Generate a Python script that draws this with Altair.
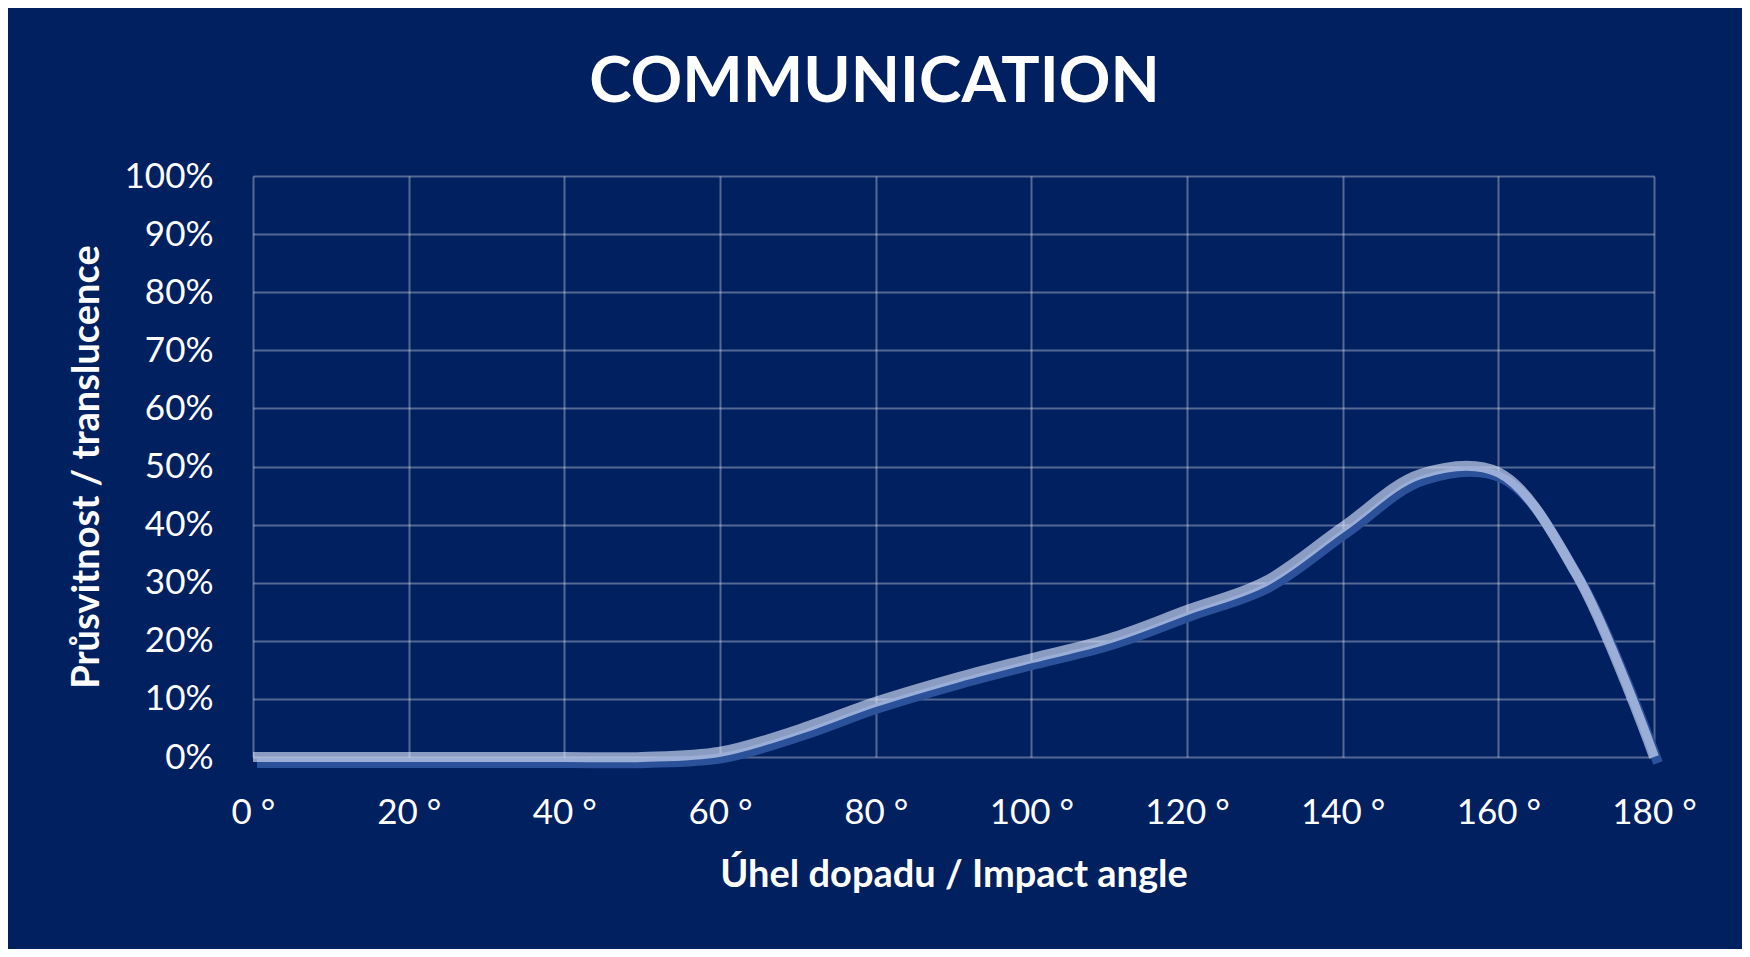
import altair as alt
import pandas as pd

# Data (angle in degrees, translucence in %)
angles = [0, 10, 20, 30, 40, 50, 60, 70, 80, 90, 100, 110, 120, 130, 140, 150, 160, 170, 180]
translucence = [0, 0, 0, 0, 0, 0, 0.9, 4.7, 9.5, 13.5, 17.0, 20.4, 25.3, 30.2, 39.6, 48.7, 49.0, 31.5, 0]

x_ticks = [0, 20, 40, 60, 80, 100, 120, 140, 160, 180]
y_ticks = [0, 0.1, 0.2, 0.3, 0.4, 0.5, 0.6, 0.7, 0.8, 0.9, 1.0]

df = pd.DataFrame({"angle": angles, "value": [v / 100 for v in translucence]})

BG = "#002060"
FONT = "Lato"

x_enc = alt.X(
    "angle:Q",
    scale=alt.Scale(domain=[0, 180], nice=False, zero=False),
    axis=alt.Axis(
        values=x_ticks,
        labelExpr="datum.value + ' °'",
        title="Úhel dopadu / Impact angle",
        labelFlush=False,
        labelPadding=38,
        titlePadding=26,
    ),
)
y_enc = alt.Y(
    "value:Q",
    scale=alt.Scale(domain=[0, 1], nice=False),
    axis=alt.Axis(
        values=y_ticks,
        format=".0%",
        title="Průsvitnost / translucence",
        labelFlush=False,
        labelPadding=40,
        titlePadding=18,
    ),
)

shadow = alt.Chart(df).mark_line(
    interpolate="catmull-rom",
    strokeWidth=10,
    color="#2B519A",
    xOffset=4,
    yOffset=6,
    strokeCap="butt",
).encode(x=x_enc, y=y_enc)

light = alt.Chart(df).mark_line(
    interpolate="catmull-rom",
    strokeWidth=10,
    color="#DAE3FA",
    opacity=0.64,
    strokeCap="butt",
).encode(x=x_enc, y=y_enc)

chart = (
    alt.layer(shadow, light)
    .properties(
        width=1401,
        height=581,
        background=BG,
        padding={"left": 245, "top": 168, "right": 88, "bottom": 192},
        autosize=alt.AutoSizeParams(type="none"),
        title=alt.TitleParams(
            text="COMMUNICATION",
            anchor="middle",
            frame="group",
            dx=-79,
            offset=44,
            font=FONT,
            fontSize=64,
            fontWeight="bold",
            color="#FFFFFF",
        ),
    )
    .configure_view(stroke=None, fill=BG)
    .configure_axis(
        grid=True,
        gridColor="#FFFFFF",
        gridOpacity=0.33,
        gridWidth=2,
        domain=False,
        ticks=False,
        tickSize=0,
        labelColor="#FFFFFF",
        labelFont=FONT,
        labelFontSize=35,
        titleColor="#FFFFFF",
        titleFont=FONT,
        titleFontSize=38,
        titleFontWeight="bold",
    )
)

chart.save("out.html", embed_options={"renderer": "svg", "actions": False})
